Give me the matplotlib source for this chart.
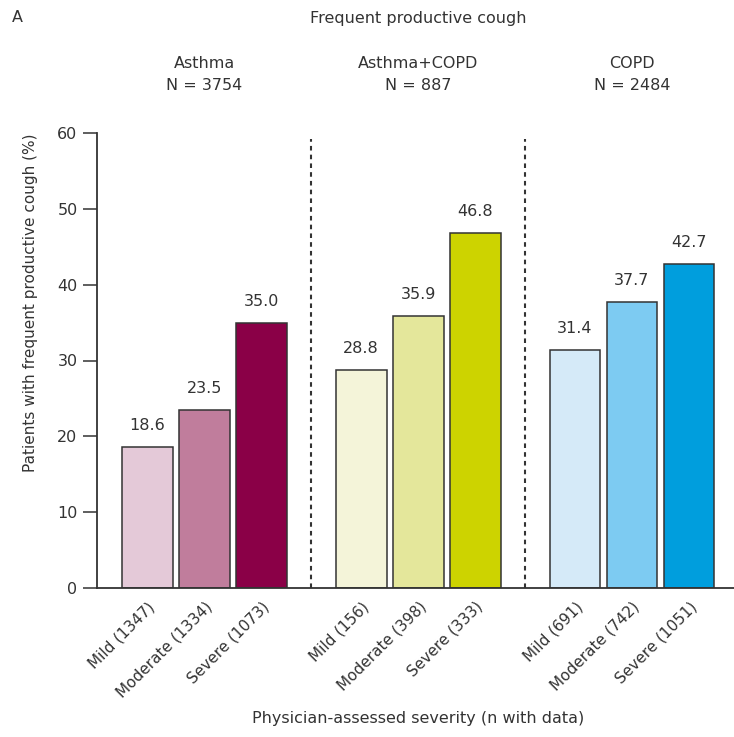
import matplotlib
matplotlib.use("Agg")
import matplotlib.pyplot as plt
import matplotlib.transforms as mtransforms

plt.rcParams['font.family'] = ['DejaVu Sans']

groups = ["Asthma", "Asthma+COPD", "COPD"]
group_n = [3754, 887, 2484]
severity = ["Mild", "Moderate", "Severe"]
n_with_data = [[1347, 1334, 1073], [156, 398, 333], [691, 742, 1051]]
values = [[18.6, 23.5, 35.0], [28.8, 35.9, 46.8], [31.4, 37.7, 42.7]]
colors = [["#E4C9D8", "#C07D9C", "#8A0047"],
          ["#F4F4D9", "#E4E79B", "#CDD300"],
          ["#D5EAF8", "#7DCBF2", "#009EDD"]]

group_step = 3.75
bar_width = 0.89
ink = "#333333"
text_col = "#333333"
fs = 11.5

W, H = 734, 737
fig = plt.figure(figsize=(W / 100, H / 100), dpi=100)
ax = fig.add_axes([97 / W, 149 / H, (W - 97) / W, 455 / H])

xs, labels = [], []
for g in range(3):
    for i in range(3):
        x = i + g * group_step
        v = values[g][i]
        ax.bar(x, v, width=bar_width, color=colors[g][i], edgecolor=ink,
               linewidth=1.1, zorder=2)
        ax.annotate(f"{v:.1f}", (x, v), xytext=(0, 10), textcoords="offset points",
                    ha="center", va="bottom", fontsize=fs, color=text_col)
        xs.append(x)
        labels.append(f"{severity[i]} ({n_with_data[g][i]})")

# dashed separators between groups
for g in range(2):
    xsep = 2 + g * group_step + (group_step - 2) / 2
    ax.plot([xsep, xsep], [0, 59.2], color=ink, linestyle=(0, (2.2, 2.0)),
            linewidth=1.5, zorder=1)

ax.set_xlim(-0.886, 10.29)
ax.set_ylim(0, 60)
ax.set_yticks(range(0, 61, 10))
ax.set_xticks(xs)
ax.set_xticklabels(labels, rotation=45, ha="right", va="top",
                   rotation_mode="anchor", fontsize=11, color=text_col)
ax.tick_params(axis="x", length=0, pad=8)
ax.tick_params(axis="y", length=10, width=1.1, color=ink, pad=4,
               labelsize=fs, labelcolor=text_col)
for side in ("top", "right"):
    ax.spines[side].set_visible(False)
for side in ("left", "bottom"):
    ax.spines[side].set_color(ink)
    ax.spines[side].set_linewidth(1.3)

ax.set_ylabel("Patients with frequent productive cough (%)", fontsize=11,
              color=text_col, labelpad=14, loc="top")

# group headers positioned over each group's middle bar
trans = mtransforms.blended_transform_factory(ax.transData, fig.transFigure)
for g in range(3):
    xc = 1 + g * group_step
    ax.text(xc, 1 - 63 / H, groups[g], transform=trans, ha="center", va="center",
            fontsize=fs, color=text_col)
    ax.text(xc, 1 - 85 / H, f"N = {group_n[g]}", transform=trans, ha="center",
            va="center", fontsize=fs, color=text_col)

ax.text(1 + group_step, 1 - 18 / H, "Frequent productive cough", transform=trans,
        ha="center", va="center", fontsize=fs, color=text_col)
fig.text(12 / W, 1 - 18 / H, "A", ha="left", va="center", fontsize=fs,
         color=text_col)
ax.text(1 + group_step, 1 - 718 / H, "Physician-assessed severity (n with data)",
        transform=trans, ha="center", va="center", fontsize=fs, color=text_col)

fig.savefig("out.png", dpi=100)
